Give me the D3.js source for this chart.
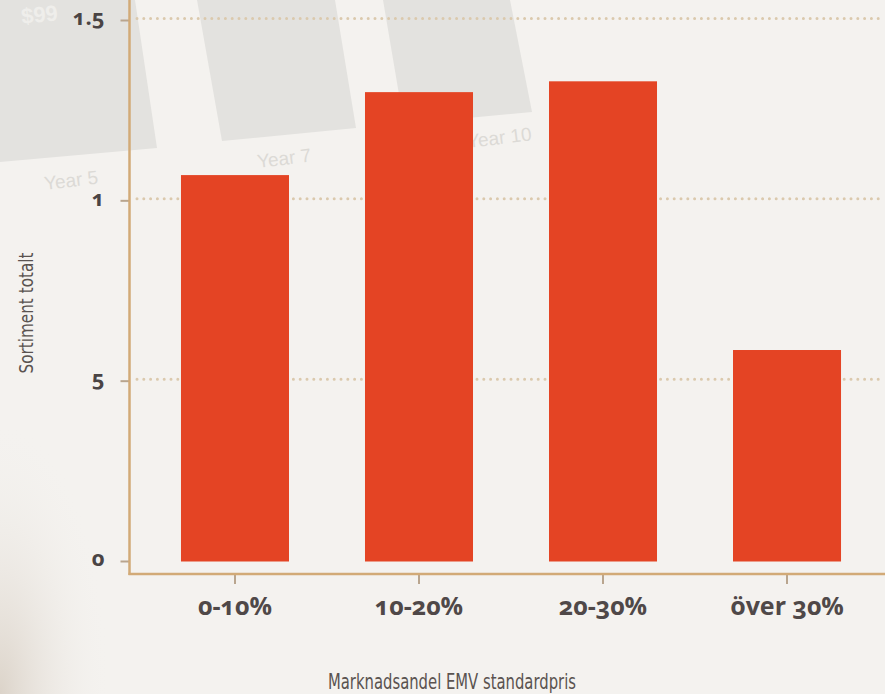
<!DOCTYPE html>
<html>
<head>
<meta charset="utf-8">
<script src="https://cdn.jsdelivr.net/npm/d3@7"></script>
<style>
  html, body { margin: 0; padding: 0; background: #f4f2ef; }
  svg { display: block; }
</style>
</head>
<body>
<svg id="chart" width="885" height="694"></svg>
<script>
// ---- data ----
const categories = ["0-10%", "10-20%", "20-30%", "över 30%"];
const values = [1.07, 1.30, 1.33, 0.585];
const yTickValues = [0, 0.5, 1, 1.5];
const yTickLabels = ["0", "5", "1", "1.5"];
const xTitle = "Marknadsandel EMV standardpris";
const yTitle = "Sortiment totalt";
const bgTexts = ["$99", "Year 5", "Year 7", "Year 10"];

const W = 885, H = 694;
const svg = d3.select("#chart");

// ---- background (faded photo imitation) ----
const defs = svg.append("defs");
const rg = defs.append("radialGradient").attr("id", "corner")
  .attr("cx", 0).attr("cy", 1).attr("r", 1);
rg.append("stop").attr("offset", "0%").attr("stop-color", "#d9d0c5").attr("stop-opacity", 0.9);
rg.append("stop").attr("offset", "100%").attr("stop-color", "#f4f2ef").attr("stop-opacity", 0);

const bg = svg.append("g");
bg.append("rect").attr("width", W).attr("height", H).attr("fill", "#f4f2ef");
bg.append("rect").attr("x", 0).attr("y", 420).attr("width", 110).attr("height", 274).attr("fill", "url(#corner)");
const grayPolys = [
  [[0,0],[135,0],[157,148],[0,162]],
  [[197,0],[335,0],[356,128],[222,141]],
  [[383,0],[510,0],[532,112],[404,124]]
];
bg.selectAll("path.bgp").data(grayPolys).join("path")
  .attr("class", "bgp")
  .attr("d", d => d3.line()(d) + "Z")
  .attr("fill", "#e3e2df");
bg.append("text").text(bgTexts[0]).attr("x", 22).attr("y", 24)
  .attr("font-family", "Liberation Sans, Arial, sans-serif").attr("font-weight", "bold")
  .attr("font-size", 22).attr("fill", "#efeeeb").attr("transform", "rotate(-6,22,24)");
const yearPos = [[45, 190], [258, 168], [468, 148]];
bg.selectAll("text.yr").data(bgTexts.slice(1)).join("text")
  .attr("class", "yr")
  .text(d => d)
  .attr("x", (d, i) => yearPos[i][0]).attr("y", (d, i) => yearPos[i][1])
  .attr("transform", (d, i) => `rotate(-7,${yearPos[i][0]},${yearPos[i][1]})`)
  .attr("font-family", "Liberation Sans, Arial, sans-serif")
  .attr("font-size", 19).attr("fill", "#dcdad6");

// ---- scales ----
const x = d3.scaleBand().domain(categories).range([137, 885])
  .paddingInner(0.413).paddingOuter(0.239);
const y = d3.scaleLinear().domain([0, 1.5]).range([561, 20]);

const axisColor = "#d2aa77";
const tickColor = "#b9a58e";

// gridlines
svg.append("g").selectAll("line").data(yTickValues.filter(v => v > 0)).join("line")
  .attr("x1", 137).attr("x2", W)
  .attr("y1", d => y(d) - 1.5).attr("y2", d => y(d) - 1.5)
  .attr("stroke", "#dbc9ad").attr("stroke-width", 3)
  .attr("stroke-linecap", "round").attr("stroke-dasharray", "0,6.8");

// bars
svg.append("g").selectAll("rect").data(values).join("rect")
  .attr("x", (d, i) => x(categories[i]))
  .attr("width", x.bandwidth())
  .attr("y", d => y(d))
  .attr("height", d => y(0) - y(d) + 0.5)
  .attr("fill", "#e44424");

// y axis
const yAxis = d3.axisLeft(y).tickValues(yTickValues)
  .tickFormat((d, i) => yTickLabels[i]).tickSize(9).tickPadding(16);
const gy = svg.append("g").attr("transform", "translate(129.5,0)").call(yAxis);
gy.select(".domain").remove();
gy.selectAll(".tick line").attr("stroke", tickColor).attr("stroke-width", 2);
gy.selectAll(".tick text")
  .attr("dy", "0.22em")
  .attr("font-family", "'Open Sans', sans-serif").attr("font-weight", "bold")
  .attr("font-size", 22).attr("fill", "#4a4444")
  .style("font-variant-numeric", "oldstyle-nums");
svg.append("line").attr("x1", 129.5).attr("x2", 129.5).attr("y1", 0).attr("y2", 575)
  .attr("stroke", axisColor).attr("stroke-width", 2.5);

// x axis
const xAxis = d3.axisBottom(x).tickSize(9);
const gx = svg.append("g").attr("transform", "translate(0,575)").call(xAxis);
gx.select(".domain").remove();
gx.selectAll(".tick line").attr("stroke", tickColor).attr("stroke-width", 2);
gx.selectAll(".tick text")
  .attr("y", 40).attr("dy", null)
  .attr("font-family", "'Open Sans', sans-serif").attr("font-weight", "bold")
  .attr("font-size", 25).attr("fill", "#4f4848")
  .style("font-variant-numeric", "oldstyle-nums");
svg.append("line").attr("x1", 128.5).attr("x2", W).attr("y1", 574).attr("y2", 574)
  .attr("stroke", axisColor).attr("stroke-width", 2.5);

// axis titles
svg.append("text").text(xTitle)
  .attr("x", 452).attr("y", 689).attr("text-anchor", "middle")
  .attr("font-family", "'Liberation Sans Narrow', 'DejaVu Sans Condensed', sans-serif")
  .attr("font-size", 21).attr("fill", "#5a5350")
  .attr("textLength", 248).attr("lengthAdjust", "spacingAndGlyphs");
svg.append("text").text(yTitle)
  .attr("transform", "translate(33,313) rotate(-90)")
  .attr("text-anchor", "middle")
  .attr("font-family", "'Liberation Sans Narrow', 'DejaVu Sans Condensed', sans-serif")
  .attr("font-size", 20).attr("fill", "#5a5350")
  .attr("textLength", 121).attr("lengthAdjust", "spacingAndGlyphs");
</script>
</body>
</html>
